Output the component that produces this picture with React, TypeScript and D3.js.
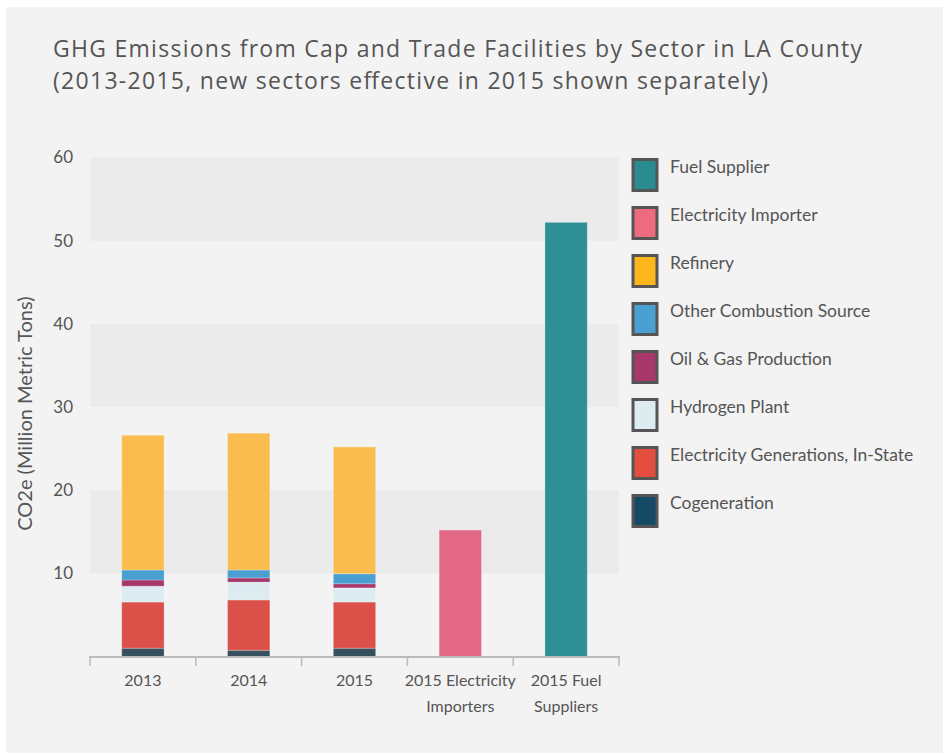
import * as d3 from 'd3'

const categories = ['2013', '2014', '2015', '2015 Electricity Importers', '2015 Fuel Suppliers']
const categoryLines = [['2013'], ['2014'], ['2015'], ['2015 Electricity', 'Importers'], ['2015 Fuel', 'Suppliers']]

// values in million metric tons CO2e
const cogeneration = [1.0, 0.75, 1.0, 0, 0]
const electricityGen = [5.55, 6.05, 5.55, 0, 0]
const hydrogenPlant = [1.9, 2.15, 1.7, 0, 0]
const oilGas = [0.75, 0.5, 0.5, 0, 0]
const otherCombustion = [1.2, 0.95, 1.2, 0, 0]
const refinery = [16.2, 16.45, 15.25, 0, 0]
const electricityImporter = [0, 0, 0, 15.2, 0]
const fuelSupplier = [0, 0, 0, 0, 52.2]

const yTicks = [10, 20, 30, 40, 50, 60]

// bottom to top in the stack
const series = [
  { key: 'Cogeneration', values: cogeneration, bar: '#36505F', legend: '#144A65' },
  { key: 'Electricity Generations, In-State', values: electricityGen, bar: '#DB5048', legend: '#E44E40' },
  { key: 'Hydrogen Plant', values: hydrogenPlant, bar: '#DDECF1', legend: '#DCECF1' },
  { key: 'Oil & Gas Production', values: oilGas, bar: '#A8386B', legend: '#A8386B' },
  { key: 'Other Combustion Source', values: otherCombustion, bar: '#489FD0', legend: '#4A9FD3' },
  { key: 'Refinery', values: refinery, bar: '#FBBC4F', legend: '#FDB71C' },
  { key: 'Electricity Importer', values: electricityImporter, bar: '#E36886', legend: '#EC6B7E' },
  { key: 'Fuel Supplier', values: fuelSupplier, bar: '#2F8F96', legend: '#2A8C90' },
]

const W = 943
const H = 753
const TEXT = '#555555'
const FONT = 'Lato, "Open Sans", sans-serif'
const TITLE_FONT = '"Open Sans", Lato, sans-serif'

const App = () => {
  const x = d3.scaleBand().domain(categories).range([90, 619]).paddingInner(0.6).paddingOuter(0.3)
  const y = d3.scaleLinear().domain([0, 60]).range([656.5, 157.5])

  const table = categories.map((c, i) => {
    const row: any = { category: c }
    series.forEach((s) => (row[s.key] = s.values[i]))
    return row
  })
  const stacked = d3.stack().keys(series.map((s) => s.key))(table)

  const step = x.step()
  const bounds = categories.map((c) => (x(c) as number) - step * x.paddingInner() / 2)
  bounds[0] = 90
  bounds.push(619)

  const legend = series.slice().reverse()

  return (
    <svg width={W} height={H} style={{ position: 'absolute', left: 0, top: 0 }} fontFamily={FONT}>
      <rect width={W} height={H} fill='#ffffff' />
      <rect x={6} y={7} width={W - 6} height={H - 7} fill='#F3F3F3' />

      <g fontFamily={TITLE_FONT} fontSize={23} fill={TEXT}>
        <text x={53} y={57} textLength={809} lengthAdjust='spacing'>
          GHG Emissions from Cap and Trade Facilities by Sector in LA County
        </text>
        <text x={53} y={89} textLength={715} lengthAdjust='spacing'>
          (2013-2015, new sectors effective in 2015 shown separately)
        </text>
      </g>

      {/* alternating bands */}
      {[10, 30, 50].map((v) => (
        <rect key={v} x={90} y={y(v + 10)} width={529} height={y(v) - y(v + 10)} fill='#EBEBEB' />
      ))}

      {yTicks.map((t) => (
        <text key={t} x={73} y={y(t)} dy='0.35em' textAnchor='end' fontSize={17} fill={TEXT}>
          {t}
        </text>
      ))}

      <text
        transform={`translate(32,${y(29.2)}) rotate(-90)`}
        textAnchor='middle'
        fontSize={20}
        fill={TEXT}
      >
        CO2e (Million Metric Tons)
      </text>

      {stacked.map((layer, li) => (
        <g key={layer.key} fill={series[li].bar} stroke='rgba(255,255,255,0.25)' strokeWidth={1}>
          {layer
            .filter((d) => d[1] - d[0] > 0)
            .map((d: any) => (
              <rect
                key={d.data.category}
                x={x(d.data.category)}
                y={y(d[1])}
                width={x.bandwidth()}
                height={y(d[0]) - y(d[1])}
              />
            ))}
        </g>
      ))}

      {/* x axis */}
      <line x1={89} x2={620} y1={657} y2={657} stroke='#BBBBBB' strokeWidth={2} />
      {bounds.map((b, i) => (
        <line key={i} x1={b} x2={b} y1={657} y2={666} stroke='#BBBBBB' strokeWidth={1.5} />
      ))}
      {categories.map((c, i) => (
        <text
          key={c}
          x={(x(c) as number) + x.bandwidth() / 2}
          y={686}
          textAnchor='middle'
          fontSize={16}
          fill={TEXT}
        >
          {categoryLines[i].map((l, j) => (
            <tspan key={j} x={(x(c) as number) + x.bandwidth() / 2} dy={j === 0 ? 0 : 26}>
              {l}
            </tspan>
          ))}
        </text>
      ))}

      {/* legend */}
      {legend.map((s, i) => (
        <g key={s.key} transform={`translate(633,${159.5 + i * 48})`}>
          <rect width={24} height={31} fill={s.legend} stroke='#555555' strokeWidth={3} />
          <text x={37} y={13} fontSize={17.5} fill={TEXT}>
            {s.key}
          </text>
        </g>
      ))}
    </svg>
  )
}

export default App
